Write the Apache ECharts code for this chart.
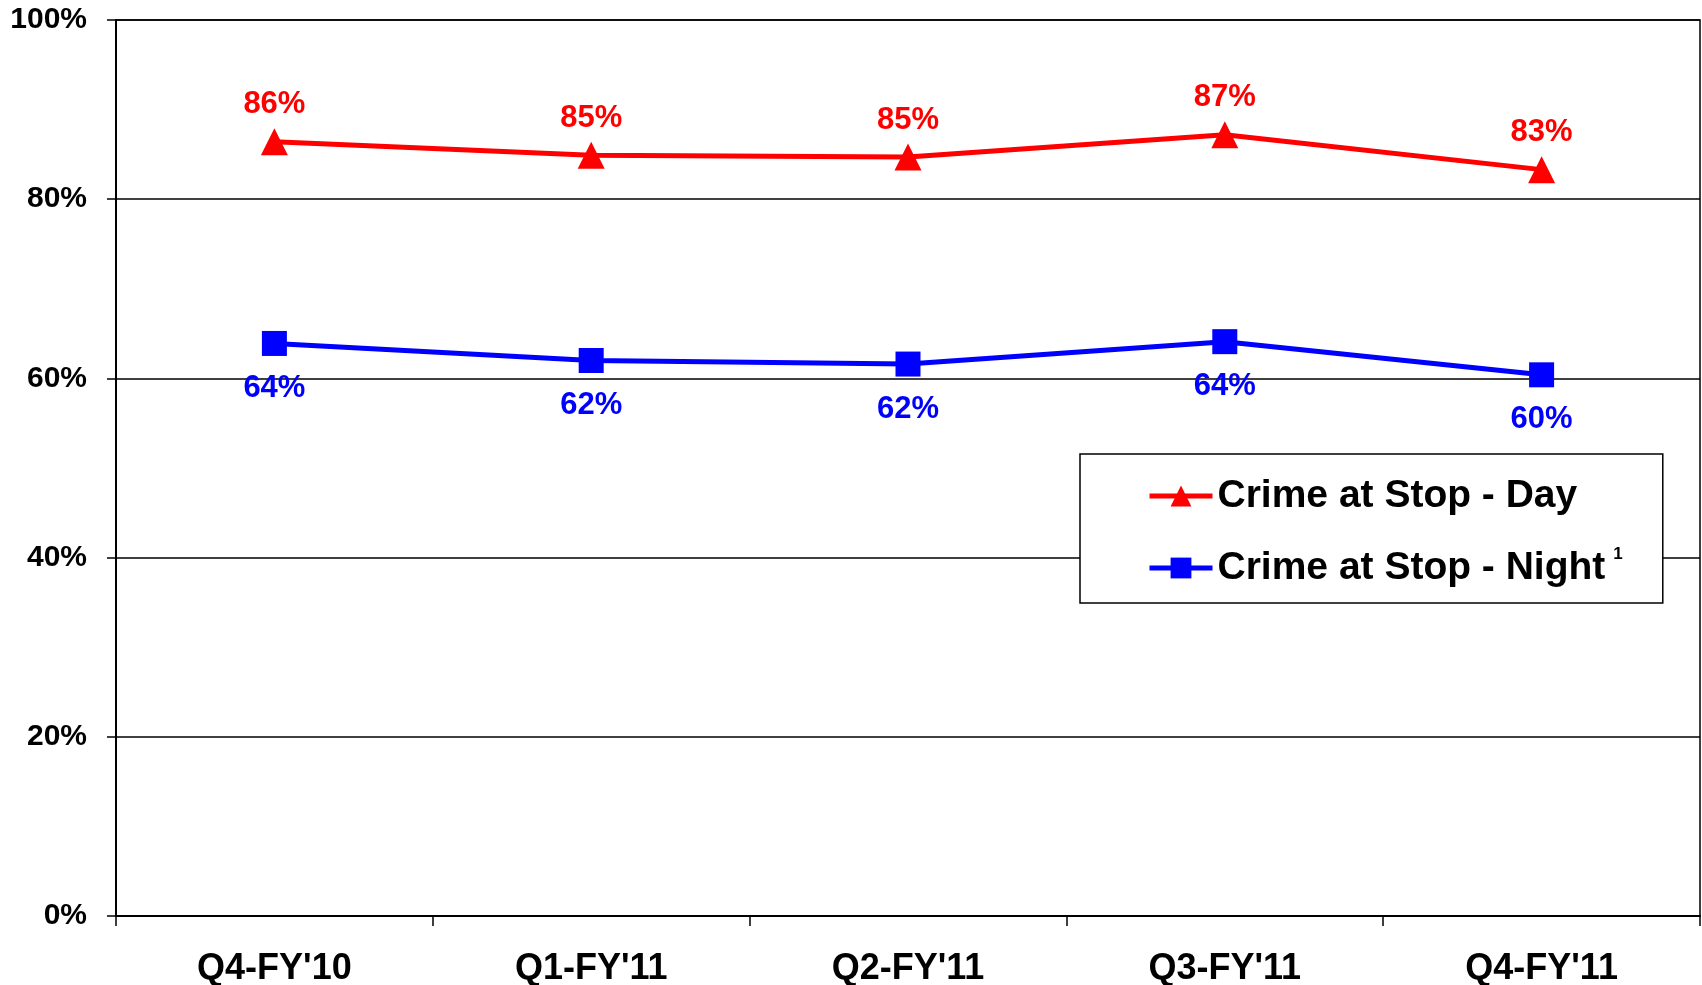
<!DOCTYPE html>
<html>
<head>
<meta charset="utf-8">
<script src="https://cdn.jsdelivr.net/npm/echarts@6/dist/echarts.min.js"></script>
<style>html,body{margin:0;padding:0;background:#fff;}#c{width:1702px;height:985px;}</style>
</head>
<body>
<div id="c"></div>
<script>
const categories = ["Q4-FY'10", "Q1-FY'11", "Q2-FY'11", "Q3-FY'11", "Q4-FY'11"];
const dayValues = [86.4, 84.9, 84.7, 87.2, 83.3];
const nightValues = [63.9, 62.0, 61.6, 64.1, 60.4];
const yTicks = [0, 20, 40, 60, 80, 100];
const dayName = 'Crime at Stop - Day';
const nightName = 'Crime at Stop - Night';

const FONT = '"Liberation Sans", Arial, sans-serif';
const chart = echarts.init(document.getElementById('c'), null, {renderer: 'canvas'});
chart.setOption({
  animation: false,
  backgroundColor: '#fff',
  grid: {left: 116, right: 2, top: 20, bottom: 69, show: true, borderColor: '#000', borderWidth: 1.5, containLabel: false, outerBoundsMode: 'none'},
  legend: {
    orient: 'vertical',
    left: 1080, top: 454,
    padding: [20, 40, 13, 67],
    itemGap: 28,
    itemWidth: 63, itemHeight: 26,
    backgroundColor: '#fff',
    borderColor: '#000', borderWidth: 1.5,
    lineStyle: {width: 5},
    data: [dayName, nightName],
    formatter: function (n) { return n === nightName ? '{n|' + n + '}{s|1}' : '{n|' + n + '}'; },
    textStyle: {
      fontFamily: FONT, fontWeight: 'bold', fontSize: 39, color: '#000', lineHeight: 44,
      rich: {
        n: {fontFamily: FONT, fontWeight: 'bold', fontSize: 39, color: '#000', lineHeight: 44},
        s: {fontFamily: FONT, fontSize: 17, color: '#000', verticalAlign: 'top', padding: [0, 0, 0, 8], lineHeight: 44}
      }
    }
  },
  xAxis: {
    type: 'category',
    data: categories,
    boundaryGap: true,
    axisLine: {lineStyle: {color: '#000', width: 2}},
    axisTick: {show: true, length: 10, lineStyle: {color: '#000', width: 1.5}, alignWithLabel: false},
    axisLabel: {fontFamily: FONT, fontWeight: 'bold', fontSize: 36, color: '#000', margin: 35},
    splitLine: {show: false}
  },
  yAxis: {
    type: 'value',
    min: yTicks[0], max: yTicks[yTicks.length - 1], interval: 20,
    axisLine: {show: true, lineStyle: {color: '#000', width: 2}},
    axisTick: {show: true, length: 9, lineStyle: {color: '#000', width: 1.5}},
    axisLabel: {fontFamily: FONT, fontWeight: 'bold', fontSize: 30, color: '#000', margin: 29,
      formatter: function (v) { return v + '%'; }},
    splitLine: {show: true, lineStyle: {color: '#000', width: 1.5}}
  },
  series: [
    {
      name: dayName, type: 'line', data: dayValues,
      symbol: 'triangle', symbolSize: 27,
      itemStyle: {color: '#ff0000'},
      lineStyle: {color: '#ff0000', width: 5},
      label: {show: true, position: 'top', distance: 8, fontFamily: FONT, fontWeight: 'bold', fontSize: 31, color: '#ff0000',
        formatter: function (p) { return Math.round(p.value) + '%'; }},
      z: 3
    },
    {
      name: nightName, type: 'line', data: nightValues,
      symbol: 'rect', symbolSize: 25,
      itemStyle: {color: '#0000ff'},
      lineStyle: {color: '#0000ff', width: 5},
      label: {show: true, position: 'bottom', distance: 17, fontFamily: FONT, fontWeight: 'bold', fontSize: 31, color: '#0000ff',
        formatter: function (p) { return Math.round(p.value) + '%'; }},
      z: 3
    }
  ]
});
</script>
</body>
</html>
